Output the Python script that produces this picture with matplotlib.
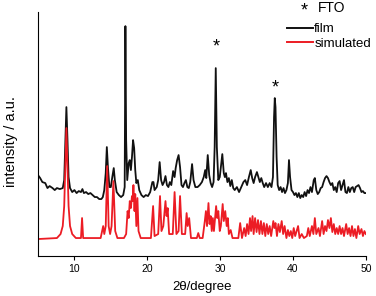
import matplotlib
matplotlib.use("Agg")
import matplotlib.pyplot as plt
from matplotlib.lines import Line2D

plt.rcParams['font.family'] = ['Liberation Sans', 'DejaVu Sans']

# simulated pattern (2theta, intensity a.u.)
sim_2theta = [5.0, 7.6, 8.1, 8.4, 8.6, 8.75, 8.9, 9.05, 9.2, 9.4, 9.7, 10.2, 10.9, 11.05, 11.2,
              13.6, 13.8, 13.95, 14.1, 14.3, 14.5, 14.7, 14.9, 15.1, 15.35, 15.6, 15.9,
              16.8, 17.1, 17.3, 17.45, 17.6, 17.75, 17.9, 18.0, 18.1, 18.25, 18.35, 18.5,
              18.65, 18.8, 19.1, 20.5, 20.8, 21.0, 21.5, 21.75, 21.95, 22.2, 22.5, 22.65,
              22.8, 23.0, 23.5, 23.75, 24.0, 24.3, 24.5, 24.75, 25.2, 25.4, 25.55, 25.75,
              26.0, 26.8, 27.0, 27.2, 27.6, 27.9, 28.05, 28.2, 28.4, 28.55, 28.7, 28.85,
              29.0, 29.15, 29.45, 29.6, 29.75, 29.95, 30.1, 30.35, 30.5, 30.7, 30.9, 31.05,
              31.2, 31.45, 31.7, 32.5, 32.75, 33.0, 33.3, 33.5, 33.7, 33.9, 34.1, 34.25,
              34.45, 34.6, 34.8, 35.0, 35.2, 35.4, 35.6, 35.8, 36.0, 36.2, 36.4, 36.6,
              36.8, 37.0, 37.3, 37.45, 37.6, 37.8, 38.0, 38.2, 38.45, 38.65, 38.85, 39.1,
              39.3, 39.5, 39.7, 39.9, 40.1, 40.3, 40.5, 40.7, 40.9, 41.2, 41.5, 41.9,
              42.1, 42.3, 42.6, 42.8, 43.0, 43.2, 43.5, 43.7, 44.0, 44.2, 44.4, 44.6,
              44.8, 45.0, 45.2, 45.4, 45.6, 45.8, 46.0, 46.2, 46.4, 46.6, 46.8, 47.0,
              47.3, 47.5, 47.7, 47.9, 48.1, 48.3, 48.5, 48.7, 48.95, 49.15, 49.4, 49.6,
              49.8, 50.0]
sim_int = [17, 18, 22, 30, 50, 90, 128, 90, 50, 30, 22, 18, 18, 38, 18,
           18, 25, 30, 22, 30, 90, 30, 22, 30, 75, 25, 18,
           18, 22, 45, 38, 55, 48, 60, 55, 71, 45, 62, 30,
           58, 25, 18, 18, 50, 20, 22, 60, 25, 30, 55, 40,
           48, 22, 22, 64, 22, 25, 60, 22, 22, 43, 30, 38,
           18, 18, 23, 18, 18, 35, 45, 30, 53, 32, 40, 25,
           38, 25, 50, 38, 45, 25, 30, 52, 35, 45, 30, 38,
           22, 26, 18, 18, 33, 18, 28, 20, 32, 22, 38, 25,
           40, 22, 38, 24, 36, 22, 35, 22, 33, 20, 32, 22,
           30, 20, 35, 28, 33, 20, 32, 24, 35, 22, 30, 18,
           26, 20, 25, 18, 28, 20, 25, 30, 18, 22, 18, 20,
           28, 20, 30, 22, 38, 22, 28, 20, 35, 22, 30, 25,
           36, 28, 38, 24, 32, 22, 28, 22, 30, 22, 28, 20,
           32, 22, 28, 20, 30, 20, 27, 18, 30, 22, 27, 20,
           25, 22]

# measured film pattern
film_2theta = [5.0, 5.3, 5.6, 6.0, 6.3, 6.6, 7.0, 7.3, 7.6, 8.0, 8.4, 8.6, 8.75, 8.9, 9.05,
               9.2, 9.4, 9.7, 10.0, 10.3, 10.6, 10.9, 11.1, 11.3, 11.6, 11.9, 12.2, 12.5,
               12.8, 13.1, 13.4, 13.7, 13.9, 14.1, 14.3, 14.45, 14.6, 14.8, 15.0, 15.2,
               15.4, 15.55, 15.8, 16.1, 16.4, 16.7, 16.9, 17.0, 17.1, 17.25, 17.45, 17.6,
               17.75, 17.9, 18.05, 18.2, 18.35, 18.5, 18.7, 18.9, 19.2, 19.5, 19.8, 20.1,
               20.4, 20.7, 20.85, 21.0, 21.3, 21.5, 21.7, 21.9, 22.1, 22.3, 22.5, 22.7,
               22.9, 23.1, 23.3, 23.55, 23.75, 23.9, 24.1, 24.3, 24.5, 24.7, 24.9, 25.1,
               25.3, 25.5, 25.7, 25.9, 26.15, 26.35, 26.6, 26.9, 27.2, 27.5, 27.75, 27.95,
               28.1, 28.3, 28.5, 28.7, 28.9, 29.1, 29.25, 29.4, 29.55, 29.75, 29.95, 30.1,
               30.3, 30.5, 30.65, 30.8, 31.0, 31.2, 31.4, 31.6, 31.8, 32.0, 32.3, 32.6,
               32.9, 33.2, 33.45, 33.7, 33.95, 34.2, 34.4, 34.6, 34.8, 35.05, 35.25, 35.45,
               35.65, 35.85, 36.05, 36.3, 36.55, 36.8, 37.05, 37.25, 37.4, 37.5, 37.6,
               37.75, 37.9, 38.1, 38.3, 38.5, 38.7, 38.9, 39.1, 39.3, 39.45, 39.6, 39.8,
               40.0, 40.2, 40.4, 40.6, 40.8, 41.0, 41.2, 41.4, 41.6, 41.8, 42.0, 42.2,
               42.4, 42.6, 42.85, 43.0, 43.2, 43.4, 43.6, 43.8, 44.0, 44.2, 44.4, 44.6,
               44.8, 45.0, 45.2, 45.4, 45.6, 45.8, 46.0, 46.2, 46.4, 46.6, 46.8, 47.0,
               47.2, 47.4, 47.6, 47.8, 48.0, 48.2, 48.4, 48.6, 48.8, 49.0, 49.2, 49.4,
               49.6, 49.8, 50.0]
film_int = [81, 78, 74, 73, 68, 70, 68, 66, 68, 67, 68, 76, 113, 149, 116,
            79, 68, 64, 66, 63, 65, 64, 67, 63, 64, 62, 63, 61,
            59, 59, 57, 57, 59, 66, 83, 109, 89, 69, 69, 79,
            88, 76, 64, 61, 59, 61, 69, 230, 116, 76, 93, 96,
            86, 99, 116, 108, 86, 73, 76, 66, 61, 59, 61, 60,
            64, 74, 74, 66, 69, 76, 94, 76, 71, 74, 80, 71,
            69, 74, 71, 85, 79, 88, 96, 101, 89, 71, 69, 73,
            76, 69, 68, 74, 92, 76, 69, 69, 71, 74, 79, 86,
            78, 101, 81, 73, 69, 74, 109, 188, 109, 76, 79, 89,
            102, 83, 79, 83, 74, 78, 70, 76, 68, 66, 69, 64,
            69, 74, 76, 71, 79, 86, 78, 73, 79, 84, 79, 74,
            78, 73, 69, 73, 69, 73, 69, 79, 139, 158, 149,
            99, 71, 66, 69, 64, 68, 63, 66, 73, 96, 79, 66,
            64, 61, 63, 59, 63, 58, 61, 59, 64, 60, 66, 63,
            69, 64, 76, 78, 66, 62, 64, 68, 69, 74, 78, 80,
            78, 74, 71, 73, 66, 69, 64, 73, 75, 66, 71, 76,
            64, 63, 69, 64, 68, 69, 64, 69, 70, 71, 68, 64,
            65, 63, 63]

fto_2theta = [29.4, 37.5]
fto_int = [209, 168]

fig = plt.figure(figsize=(3.76, 2.96), dpi=100)
ax = fig.add_axes([0.101, 0.135, 0.872, 0.824])

ax.plot(film_2theta, film_int, color='#111111', lw=1.3)
ax.plot(sim_2theta, sim_int, color='#ec1c24', lw=1.3)

for x, y in zip(fto_2theta, fto_int):
    ax.text(x, y, '*', ha='center', va='center', fontsize=13)

ax.set_xlim(5, 50)
ax.set_ylim(0, 244)
ax.set_xticks([10, 20, 30, 40, 50])
ax.set_yticks([])
ax.tick_params(axis='x', labelsize=7.5, length=3, width=0.8, direction='out', pad=2.5)
for s in ['top', 'right']:
    ax.spines[s].set_visible(False)
ax.spines['left'].set_linewidth(0.8)
ax.spines['bottom'].set_linewidth(0.8)

ax.set_xlabel('2θ/degree', fontsize=9.5, labelpad=5)
ax.set_ylabel('intensity / a.u.', fontsize=10.5)
ax.yaxis.set_label_coords(-0.062, 0.47)

fig.text(0.808, 0.962, '*', fontsize=13, ha='center', va='center')
fig.text(0.846, 0.972, 'FTO', fontsize=10, ha='left', va='center')

handles = [Line2D([], [], color='#111111', lw=1.4),
           Line2D([], [], color='#ec1c24', lw=1.4)]
fig.legend(handles, ['film', 'simulated'], loc='upper left',
           bbox_to_anchor=(0.762, 0.922), frameon=False, fontsize=9.5,
           handlelength=2.0, handletextpad=0.1, labelspacing=0.15,
           borderaxespad=0, borderpad=0)

fig.savefig('out.png', dpi=100)
